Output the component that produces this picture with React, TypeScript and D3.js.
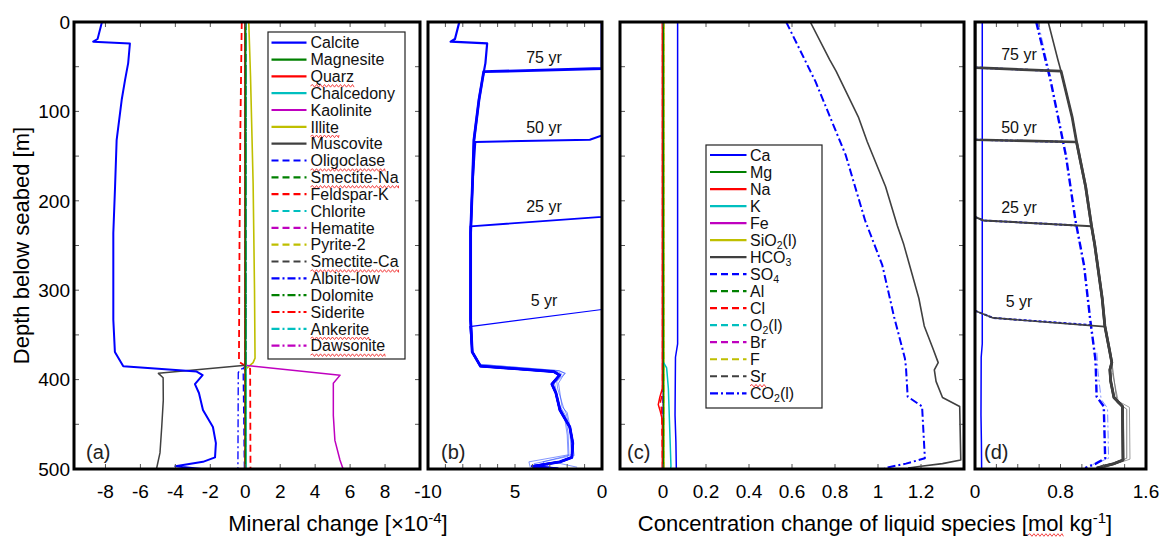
import React from "react";
import * as d3 from "d3";

type Pt = [number, number]; // [depth below seabed (m), value]

/* ---------- shared depth axis ---------- */
const depthLabels = [0, 100, 200, 300, 400, 500];
const depthTicks = [50, 100, 150, 200, 250, 300, 350, 400, 450];

/* ---------- (a) mineral change [x10^-4], end of run ---------- */
const calcite: Pt[] = [
  [0, -8.2], [19, -8.45], [22, -8.7], [24, -6.6], [46, -6.7], [65, -6.88], [87, -7.07],
  [132, -7.36], [184, -7.45], [236, -7.55], [333, -7.55], [369, -7.46], [385, -6.98],
  [391, -2.78], [395, -2.44], [405, -2.88], [415, -2.65], [434, -2.42], [453, -1.85],
  [471, -1.68], [487, -1.73], [492, -2.42], [497, -4.0], [500, -2.5],
];
const magnesite: Pt[] = [[0, 0.0], [500, 0.0]];
const quarz: Pt[] = [[0, -0.02], [500, -0.02]];
const chalcedony: Pt[] = [[0, 0.03], [385, 0.03], [390, 0.05], [500, 0.05]];
const kaolinite: Pt[] = [[0, 0.0], [384, 0.0], [395, 5.43], [404, 5.04], [440, 5.04], [468, 5.13], [490, 5.42], [500, 5.6]];
const illite: Pt[] = [[0, 0.2], [60, 0.3], [180, 0.45], [300, 0.53], [376, 0.56], [381, 0.45], [388, 0.04], [500, 0.04]];
const muscovite: Pt[] = [[0, 0.02], [384, 0.02], [393, -4.97], [398, -4.7], [423, -4.69], [453, -4.78], [482, -4.88], [500, -5.08]];
const oligoclase: Pt[] = [[0, 0.0], [384, 0.0], [388, -0.12], [500, -0.05]];
const smectiteNa: Pt[] = [[0, 0.03], [500, 0.05]];
const feldsparK: Pt[] = [[0, -0.2], [120, -0.28], [250, -0.33], [380, -0.36], [388, 0.28], [500, 0.3]];
const chlorite: Pt[] = [[0, 0.04], [500, 0.04]];
const hematite: Pt[] = [[0, 0.0], [500, 0.0]];
const pyrite2: Pt[] = [[0, 0.06], [385, 0.06], [390, 0.05], [500, 0.05]];
const smectiteCa: Pt[] = [[0, 0.02], [500, 0.04]];
const albiteLow: Pt[] = [[0, 0.0], [384, 0.0], [392, -0.4], [500, -0.42]];
const dolomite: Pt[] = [[0, 0.05], [500, 0.05]];
const siderite: Pt[] = [[0, 0.0], [500, 0.0]];
const ankerite: Pt[] = [[0, 0.04], [500, 0.0]];
const dawsonite: Pt[] = [[0, 0.01], [500, 0.01]];

/* ---------- (b) calcite at successive times ---------- */
const calciteFront75: Pt[] = [[0, 0], [52, 0], [55.6, -6.8]];
const calciteFront50: Pt[] = [[0, 0], [127, 0], [131.7, -0.7], [134.2, -7.28]];
const calciteFront25: Pt[] = [[0, 0], [218, 0], [228.6, -7.56]];
const calciteFront5: Pt[] = [[0, 0], [321.6, 0], [340.7, -7.6]];
const calciteStepA: Pt[] = [[383, -7.0], [390, -2.45], [393, -2.1], [402, -2.6], [410, -2.55], [432, -2.2], [438, -2.05], [458, -1.85], [484, -1.75], [492, -3.4], [500, -2.9]];
const calciteStepB: Pt[] = [[383, -7.05], [390, -2.5], [393, -2.15], [404, -2.5], [430, -2.3], [437, -2.0], [456, -1.8], [485, -1.6], [493, -2.6], [498, -1.43]];
const calciteStepC: Pt[] = [[384, -7.0], [391, -2.55], [394, -2.3], [403, -2.75], [430, -2.4], [440, -2.1], [460, -1.95], [484, -1.9], [492, -4.2], [500, -4.1]];
const calciteStepD: Pt[] = [[385, -7.0], [392, -2.6], [396, -2.35], [406, -2.8], [428, -2.45], [442, -2.15], [462, -2.0], [486, -1.95], [494, -3.9], [500, -3.6]];
const bLabels = [
  { depth: 46, text: "75 yr" },
  { depth: 124, text: "50 yr" },
  { depth: 213, text: "25 yr" },
  { depth: 318, text: "5 yr" },
];

/* ---------- (c) liquid species [mol kg^-1] ---------- */
const ca: Pt[] = [[0, 0.068], [360, 0.068], [375, 0.058], [440, 0.056], [470, 0.06], [500, 0.062]];
const mg: Pt[] = [[0, 0.002], [500, 0.002]];
const na: Pt[] = [[0, -0.003], [410, -0.003], [420, -0.015], [428, -0.022], [436, -0.012], [445, -0.003], [500, -0.003]];
const kIon: Pt[] = [[0, 0.0], [380, 0.0], [387, 0.017], [410, 0.025], [468, 0.033], [497, 0.037], [500, 0.035]];
const fe: Pt[] = [[0, 0.0], [500, 0.0]];
const sio2: Pt[] = [[0, 0.005], [500, 0.005]];
const hco3: Pt[] = [
  [0, 0.685], [42, 0.775], [55, 0.805], [107, 0.91], [134, 0.95], [184, 1.035], [228, 1.09],
  [249, 1.12], [309, 1.19], [340, 1.215], [365, 1.255], [381, 1.28], [389, 1.262], [402, 1.27],
  [420, 1.3], [430, 1.38], [490, 1.385], [494, 1.3], [497, 1.2], [499, 1.14],
];
const so4: Pt[] = [[0, 0.0], [500, 0.0]];
const al: Pt[] = [[0, 0.001], [500, 0.001]];
const cl: Pt[] = [[0, -0.002], [415, -0.002], [425, -0.012], [435, -0.006], [500, -0.002]];
const o2: Pt[] = [[0, 0.0], [500, 0.0]];
const br: Pt[] = [[0, 0.0], [500, 0.0]];
const fIon: Pt[] = [[0, 0.004], [500, 0.004]];
const sr: Pt[] = [[0, 0.002], [500, 0.002]];
const co2: Pt[] = [
  [0, 0.573], [67, 0.71], [149, 0.85], [222, 0.94], [272, 1.02], [330, 1.075], [376, 1.125],
  [386, 1.13], [419, 1.138], [430, 1.205], [488, 1.218], [494, 1.13], [499, 1.03],
];

/* ---------- (d) HCO3 and CO2(l) at successive times ---------- */
const hco3Front75: Pt[] = [[0, 0], [51, 0], [55, 0.805]];
const hco3Front50: Pt[] = [[0, 0], [131.7, 0], [134.2, 0.95]];
const hco3Front25: Pt[] = [[0, 0], [218, 0], [222, 0.08], [228.6, 1.09]];
const hco3Front5: Pt[] = [[0, 0], [323, 0], [331, 0.17], [340.7, 1.215]];
const co2Front75: Pt[] = [[51, 0], [54.5, 0.68]];
const co2Front50: Pt[] = [[131.7, 0], [134, 0.82]];
const co2Front25: Pt[] = [[218, 0], [222, 0.08], [227.5, 0.945]];
const co2Front5: Pt[] = [[323, 0], [331, 0.17], [339, 1.08]];
const hco3StepA: Pt[] = [[378, 1.28], [392, 1.285], [424, 1.34], [431, 1.445], [489, 1.45], [495, 1.3], [499, 1.2]];
const hco3StepB: Pt[] = [[380, 1.28], [426, 1.33], [433, 1.42], [488, 1.42], [496, 1.25]];
const co2StepA: Pt[] = [[0, 0.59], [40, 0.665], [62, 0.71]];
const co2StepB: Pt[] = [[370, 1.14], [390, 1.15], [422, 1.18], [432, 1.24], [488, 1.25], [495, 1.1]];
const dLabels = [
  { depth: 42, text: "75 yr" },
  { depth: 124, text: "50 yr" },
  { depth: 214, text: "25 yr" },
  { depth: 319, text: "5 yr" },
];

/* ---------- axis ticks ---------- */
const ticksA = [-8, -6, -4, -2, 0, 2, 4, 6, 8];
const ticksB = [-9, -8, -7, -6, -5, -4, -3, -2, -1];
const labelsB = [
  { v: -10, text: "-10" },
  { v: -5, text: "5" },
  { v: 0, text: "0" },
];
const ticksC = [0, 0.2, 0.4, 0.6, 0.8, 1.0, 1.2];
const ticksD = [0.2, 0.4, 0.6, 0.8, 1.0, 1.2, 1.4];
const labelsD = [0, 0.8, 1.6];

/* ---------- styling ---------- */
const FONT = "'Liberation Sans', Arial, Helvetica, sans-serif";
const BLUE = "#0000ff";
const GREEN = "#008000";
const RED = "#ff0000";
const CYAN = "#00bfbf";
const MAGENTA = "#bf00bf";
const YELLOW = "#bfbf00";
const DARK = "#404040";
const DASH = "7,4";
const DASHDOT = "8,3,2,3";

const TOP = 22;
const BOTTOM = 469;
const TICK = 5;
const TICK_FONT = 19;

type Series = { name: string; data: Pt[]; color: string; dash?: string; w: number };

const mineralSeries: Series[] = [
  { name: "Calcite", data: calcite, color: BLUE, w: 2 },
  { name: "Magnesite", data: magnesite, color: GREEN, w: 1.3 },
  { name: "Quarz", data: quarz, color: RED, w: 1.3 },
  { name: "Chalcedony", data: chalcedony, color: CYAN, w: 1.3 },
  { name: "Kaolinite", data: kaolinite, color: MAGENTA, w: 1.5 },
  { name: "Illite", data: illite, color: YELLOW, w: 1.6 },
  { name: "Muscovite", data: muscovite, color: DARK, w: 1.5 },
  { name: "Oligoclase", data: oligoclase, color: BLUE, dash: DASH, w: 1.3 },
  { name: "Smectite-Na", data: smectiteNa, color: GREEN, dash: DASH, w: 1.3 },
  { name: "Feldspar-K", data: feldsparK, color: RED, dash: DASH, w: 1.8 },
  { name: "Chlorite", data: chlorite, color: CYAN, dash: DASH, w: 1.3 },
  { name: "Hematite", data: hematite, color: MAGENTA, dash: DASH, w: 1.3 },
  { name: "Pyrite-2", data: pyrite2, color: YELLOW, dash: DASH, w: 1.3 },
  { name: "Smectite-Ca", data: smectiteCa, color: DARK, dash: DASH, w: 1.3 },
  { name: "Albite-low", data: albiteLow, color: BLUE, dash: DASHDOT, w: 1.3 },
  { name: "Dolomite", data: dolomite, color: GREEN, dash: DASHDOT, w: 1.3 },
  { name: "Siderite", data: siderite, color: RED, dash: DASHDOT, w: 1.3 },
  { name: "Ankerite", data: ankerite, color: CYAN, dash: DASHDOT, w: 1.3 },
  { name: "Dawsonite", data: dawsonite, color: MAGENTA, dash: DASHDOT, w: 1.3 },
];

const speciesSeries: Series[] = [
  { name: "Ca", data: ca, color: BLUE, w: 1.5 },
  { name: "Mg", data: mg, color: GREEN, w: 1.3 },
  { name: "Na", data: na, color: RED, w: 1.5 },
  { name: "K", data: kIon, color: CYAN, w: 1.5 },
  { name: "Fe", data: fe, color: MAGENTA, w: 1.3 },
  { name: "SiO_2(l)", data: sio2, color: YELLOW, w: 1.3 },
  { name: "HCO_3", data: hco3, color: DARK, w: 1.6 },
  { name: "SO_4", data: so4, color: BLUE, dash: DASH, w: 1.3 },
  { name: "Al", data: al, color: GREEN, dash: DASH, w: 1.3 },
  { name: "Cl", data: cl, color: RED, dash: DASH, w: 1.5 },
  { name: "O_2(l)", data: o2, color: CYAN, dash: DASH, w: 1.3 },
  { name: "Br", data: br, color: MAGENTA, dash: DASH, w: 1.3 },
  { name: "F", data: fIon, color: YELLOW, dash: DASH, w: 1.3 },
  { name: "Sr", data: sr, color: DARK, dash: DASH, w: 1.3 },
  { name: "CO_2(l)", data: co2, color: BLUE, dash: DASHDOT, w: 2 },
];

// words the word processor underlined with its spell-check squiggle
const flaggedWords = new Set(["Quarz", "Illite", "Oligoclase", "Smectite-Na", "Smectite-Ca", "Ankerite", "Dawsonite", "Sr"]);

let measureCtx: CanvasRenderingContext2D | null = null;
function textWidth(text: string, size: number): number {
  if (!measureCtx) measureCtx = document.createElement("canvas").getContext("2d");
  if (!measureCtx) return text.length * size * 0.5;
  measureCtx.font = `${size}px "Liberation Sans", Arial, sans-serif`;
  return measureCtx.measureText(text).width;
}

function squigglePath(x0: number, x1: number, y: number): string {
  let d = `M${x0},${y}`;
  let up = true;
  for (let x = x0; x < x1; x += 2) {
    d += ` L${Math.min(x + 2, x1)},${up ? y - 1.3 : y + 1.3}`;
    up = !up;
  }
  return d;
}

function plainName(name: string): string {
  return name.replace(/_/g, "");
}

function RichLabel({ name, x, y, size }: { name: string; x: number; y: number; size: number }) {
  // "_d" marks a subscript digit
  const parts: { t: string; sub: boolean }[] = [];
  let buf = "";
  for (let i = 0; i < name.length; i++) {
    if (name[i] === "_" && i + 1 < name.length) {
      if (buf) parts.push({ t: buf, sub: false });
      buf = "";
      parts.push({ t: name[i + 1], sub: true });
      i++;
    } else buf += name[i];
  }
  if (buf) parts.push({ t: buf, sub: false });
  let shifted = false;
  return (
    <text x={x} y={y} fontSize={size} fontFamily={FONT} fill="#111">
      {parts.map((p, i) => {
        let dy = 0;
        if (p.sub && !shifted) { dy = 3; shifted = true; }
        else if (!p.sub && shifted) { dy = -3; shifted = false; }
        return (
          <tspan key={i} dy={dy} fontSize={p.sub ? size * 0.66 : size}>{p.t}</tspan>
        );
      })}
    </text>
  );
}

function Legend({ series, x, y, w, h, firstRow, step, sx0, sx1, tx }: {
  series: Series[]; x: number; y: number; w: number; h: number; firstRow: number; step: number; sx0: number; sx1: number; tx: number;
}) {
  return (
    <g>
      <rect x={x} y={y} width={w} height={h} fill="#fff" stroke="#222" strokeWidth={1.2} />
      {series.map((s, i) => {
        const ry = firstRow + i * step;
        const label = plainName(s.name);
        const flagged = flaggedWords.has(label);
        const tw = flagged ? textWidth(label, 16) : 0;
        return (
          <g key={s.name}>
            <line x1={sx0} x2={sx1} y1={ry} y2={ry} stroke={s.color} strokeWidth={2.2} strokeDasharray={s.dash} />
            <RichLabel name={s.name} x={tx} y={ry + 5.7} size={16} />
            {flagged && (
              <path d={squigglePath(tx, tx + tw, ry + 9.5)} fill="none" stroke="#f03030" strokeWidth={0.9} />
            )}
          </g>
        );
      })}
    </g>
  );
}

function Frame({ x0, x1, xTicks, scale, yTicks }: {
  x0: number; x1: number; xTicks: number[]; scale: (v: number) => number; yTicks?: number[];
}) {
  const y = d3.scaleLinear().domain([0, 500]).range([TOP, BOTTOM]);
  return (
    <g>
      {xTicks.map((t) => (
        <g key={`x${t}`}>
          <line x1={scale(t)} x2={scale(t)} y1={BOTTOM} y2={BOTTOM - TICK} stroke="#555" strokeWidth={1} />
          <line x1={scale(t)} x2={scale(t)} y1={TOP} y2={TOP + TICK} stroke="#555" strokeWidth={1} />
        </g>
      ))}
      {(yTicks || []).map((t) => (
        <g key={`y${t}`}>
          <line x1={x0} x2={x0 + TICK} y1={y(t)} y2={y(t)} stroke="#555" strokeWidth={1} />
          <line x1={x1} x2={x1 - TICK} y1={y(t)} y2={y(t)} stroke="#555" strokeWidth={1} />
        </g>
      ))}
      <rect x={x0} y={TOP} width={x1 - x0} height={BOTTOM - TOP} fill="none" stroke="#000" strokeWidth={3} />
    </g>
  );
}

function withFront(front: Pt[], profile: Pt[]): Pt[] {
  const last = front[front.length - 1][0];
  return front.concat(profile.filter((p) => p[0] > last));
}

export default function App() {
  const y = d3.scaleLinear().domain([0, 500]).range([TOP, BOTTOM]);
  const xa = d3.scaleLinear().domain([-9.8, 10]).range([74, 420]);
  const xb = d3.scaleLinear().domain([-10, 0]).range([428, 602]);
  const xc = d3.scaleLinear().domain([-0.2, 1.4]).range([620, 964]);
  const xd = d3.scaleLinear().domain([0, 1.6]).range([975, 1146]);

  const lineOf = (x: d3.ScaleLinear<number, number>) =>
    d3.line<Pt>().x((p) => x(p[1])).y((p) => y(p[0]));
  const la = lineOf(xa);
  const lb = lineOf(xb);
  const lc = lineOf(xc);
  const ld = lineOf(xd);

  const panels = [
    { id: "a", x: xa },
    { id: "b", x: xb },
    { id: "c", x: xc },
    { id: "d", x: xd },
  ];

  const bProfiles = [
    { data: withFront(calciteFront5, calcite), w: 1.1 },
    { data: withFront(calciteFront25, calcite), w: 1.8 },
    { data: withFront(calciteFront50, calcite), w: 2 },
    { data: withFront(calciteFront75, calcite), w: 2.8 },
    { data: calcite, w: 2.2 },
  ];
  const bSteps = [calciteStepA, calciteStepB, calciteStepC, calciteStepD];

  const dHco3 = [
    { data: withFront(hco3Front5, hco3), w: 1.6 },
    { data: withFront(hco3Front25, hco3), w: 2 },
    { data: withFront(hco3Front50, hco3), w: 2.6 },
    { data: withFront(hco3Front75, hco3), w: 2.8 },
  ];
  const dCo2Fronts = [co2Front5, co2Front25, co2Front50, co2Front75];

  // x-axis titles
  const xTitle2Main = "Concentration change of liquid species [mol kg";
  const xTitle2Center = 875;
  const xTitle2Width = textWidth(xTitle2Main, 22) + textWidth("-1", 15) + textWidth("]", 22);
  const xTitle2Start = xTitle2Center - xTitle2Width / 2;
  const molStart = xTitle2Start + textWidth("Concentration change of liquid species [", 22);
  const molEnd = molStart + textWidth("mol", 22);

  return (
    <svg width={1168} height={538} style={{ position: "absolute", left: 0, top: 0, background: "#fff" }} fontFamily={FONT}>
      <defs>
        {panels.map((p) => (
          <clipPath id={`clip-${p.id}`} key={p.id}>
            <rect x={p.x.range()[0]} y={TOP} width={p.x.range()[1] - p.x.range()[0]} height={BOTTOM - TOP} />
          </clipPath>
        ))}
      </defs>
      <rect x={0} y={0} width={1168} height={538} fill="#fff" />

      {/* (a) mineral change */}
      <g clipPath="url(#clip-a)">
        {mineralSeries.slice().reverse().map((s) => (
          <path key={s.name} d={la(s.data) || ""} fill="none" stroke={s.color} strokeWidth={s.w}
            strokeDasharray={s.dash} strokeLinejoin="round" />
        ))}
      </g>
      <Legend series={mineralSeries} x={268} y={32} w={137} h={327} firstRow={42.7} step={16.83}
        sx0={271.5} sx1={306.5} tx={310.5} />
      <Frame x0={74} x1={420} xTicks={ticksA} scale={xa} yTicks={depthTicks} />

      {/* (b) calcite through time */}
      <g clipPath="url(#clip-b)">
        {bSteps.map((s, i) => (
          <path key={`s${i}`} d={lb(s) || ""} fill="none" stroke="#3050ff" strokeOpacity={0.75} strokeWidth={0.8} />
        ))}
        {bProfiles.map((p, i) => (
          <path key={i} d={lb(p.data) || ""} fill="none" stroke={BLUE} strokeWidth={p.w} strokeLinejoin="round" />
        ))}
      </g>
      {bLabels.map((l) => (
        <text key={l.text} x={544} y={y(l.depth)} fontSize={16} textAnchor="middle" fill="#111">{l.text}</text>
      ))}
      <Frame x0={428} x1={602} xTicks={ticksB} scale={xb} />

      {/* (c) liquid species */}
      <g clipPath="url(#clip-c)">
        {speciesSeries.slice().reverse().map((s) => (
          <path key={s.name} d={lc(s.data) || ""} fill="none" stroke={s.color} strokeWidth={s.w}
            strokeDasharray={s.dash} strokeLinejoin="round" />
        ))}
      </g>
      <Legend series={speciesSeries} x={706} y={145} w={116} h={263} firstRow={155} step={17.02}
        sx0={710} sx1={746.5} tx={750} />
      <Frame x0={620} x1={964} xTicks={ticksC} scale={xc} yTicks={depthTicks} />

      {/* (d) HCO3 and CO2(l) through time */}
      <g clipPath="url(#clip-d)">
        <path d={ld(ca) || ""} fill="none" stroke={BLUE} strokeWidth={1.5} />
        <path d={ld(co2StepA) || ""} fill="none" stroke="#8090ff" strokeWidth={1} strokeDasharray={DASHDOT} />
        <path d={ld(co2StepB) || ""} fill="none" stroke="#8090ff" strokeWidth={1} strokeDasharray={DASHDOT} />
        <path d={ld(hco3StepA) || ""} fill="none" stroke="#909090" strokeWidth={0.9} />
        <path d={ld(hco3StepB) || ""} fill="none" stroke="#707070" strokeWidth={0.9} />
        {dCo2Fronts.map((c, i) => (
          <path key={`c${i}`} d={ld(c) || ""} fill="none" stroke={BLUE} strokeWidth={2} strokeDasharray="3,2" />
        ))}
        <path d={ld(co2) || ""} fill="none" stroke={BLUE} strokeWidth={2.4} strokeDasharray={DASHDOT} />
        {dHco3.map((p, i) => (
          <path key={`h${i}`} d={ld(p.data) || ""} fill="none" stroke={DARK} strokeWidth={p.w} strokeLinejoin="round" />
        ))}
        <path d={ld(hco3) || ""} fill="none" stroke={DARK} strokeWidth={1.6} />
      </g>
      {dLabels.map((l) => (
        <text key={l.text} x={1019} y={y(l.depth)} fontSize={16} textAnchor="middle" fill="#111">{l.text}</text>
      ))}
      <Frame x0={975} x1={1146} xTicks={ticksD} scale={xd} />

      {/* panel letters */}
      <text x={86} y={459} fontSize={20} fill="#222">(a)</text>
      <text x={441} y={459} fontSize={20} fill="#222">(b)</text>
      <text x={627} y={459} fontSize={20} fill="#222">(c)</text>
      <text x={984} y={459} fontSize={20} fill="#222">(d)</text>

      {/* depth axis */}
      {depthLabels.map((d) => (
        <text key={d} x={70} y={y(d) + 6.8} fontSize={TICK_FONT} textAnchor="end" fill="#000">{d}</text>
      ))}
      <text transform={`translate(29,${(TOP + BOTTOM) / 2}) rotate(-90)`} fontSize={22} textAnchor="middle" fill="#000">
        Depth below seabed [m]
      </text>

      {/* x tick labels */}
      {ticksA.map((t) => (
        <text key={`la${t}`} x={xa(t)} y={498} fontSize={TICK_FONT} textAnchor="middle" fill="#000">{t}</text>
      ))}
      {labelsB.map((l) => (
        <text key={`lb${l.v}`} x={xb(l.v)} y={498} fontSize={TICK_FONT} textAnchor="middle" fill="#000">{l.text}</text>
      ))}
      {ticksC.map((t) => (
        <text key={`lc${t}`} x={xc(t)} y={498} fontSize={TICK_FONT} textAnchor="middle" fill="#000">{String(Math.round(t * 10) / 10)}</text>
      ))}
      {labelsD.map((t) => (
        <text key={`ld${t}`} x={xd(t)} y={498} fontSize={TICK_FONT} textAnchor="middle" fill="#000">{String(t)}</text>
      ))}

      {/* x-axis titles */}
      <text x={338} y={531} fontSize={22} textAnchor="middle" fill="#000">
        Mineral change [×10<tspan fontSize={15} dy={-8}>-4</tspan><tspan dy={8}>]</tspan>
      </text>
      <text x={xTitle2Start} y={531} fontSize={22} fill="#000">
        {xTitle2Main}<tspan fontSize={15} dy={-8}>-1</tspan><tspan dy={8}>]</tspan>
      </text>
      <path d={squigglePath(molStart, molEnd, 535)} fill="none" stroke="#f03030" strokeWidth={0.9} />
    </svg>
  );
}
